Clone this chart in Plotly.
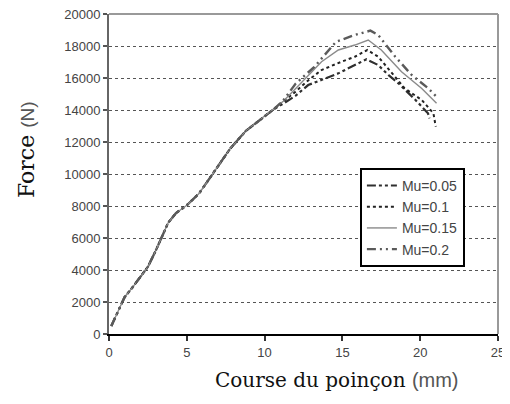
import plotly.graph_objects as go

# Shared loading part (all curves overlap)
common_x = [0.15, 0.5, 1.0, 1.5, 2.1, 2.5, 3.0, 3.5, 3.8, 4.3, 5.0, 5.8, 6.6, 7.2, 7.8, 8.8, 9.9, 10.6]
common_y = [500, 1250, 2300, 2900, 3700, 4200, 5200, 6300, 6950, 7550, 8050, 8800, 9900, 10800, 11600, 12700, 13550, 14050]

mu005_x = [11.2, 12.0, 12.8, 13.66, 14.74, 15.8, 16.55, 17.3, 17.95, 18.6, 19.7, 20.5, 20.6]
mu005_y = [14400, 14900, 15560, 15875, 16290, 16810, 17170, 16810, 16190, 15670, 14625, 13790, 13480]

mu01_x = [11.2, 12.0, 12.8, 13.66, 14.95, 15.8, 16.6, 17.3, 18.2, 19.0, 20.1, 20.85, 21.0]
mu01_y = [14500, 15150, 15850, 16500, 17020, 17330, 17750, 17330, 16290, 15350, 14625, 13790, 12960]

mu015_x = [11.2, 12.0, 13.0, 13.66, 14.74, 15.8, 16.66, 17.5, 18.8, 20.1, 21.05]
mu015_y = [14550, 15350, 16350, 17020, 17750, 18060, 18375, 17750, 16390, 15350, 14420]

mu02_x = [11.2, 12.0, 13.2, 13.66, 14.6, 15.8, 16.8, 17.3, 18.4, 19.45, 20.5, 21.05]
mu02_y = [14600, 15650, 16700, 17230, 18270, 18690, 18960, 18690, 17330, 16190, 15370, 14830]

names = ["Mu=0.05", "Mu=0.1", "Mu=0.15", "Mu=0.2"]
series_x = [mu005_x, mu01_x, mu015_x, mu02_x]
series_y = [mu005_y, mu01_y, mu015_y, mu02_y]

styles = [
    dict(color="#2f2f2f", width=2.2, dash="9px,3px,3px,3px,3px,3px"),
    dict(color="#222222", width=2, dash="3px,3px"),
    dict(color="#8a8a8a", width=1.4, dash="solid"),
    dict(color="#5a5a5a", width=2.4, dash="9px,4px,2px,4px,2px,4px"),
]

x_ticks = [0, 5, 10, 15, 20, 25]
y_ticks = [0, 2000, 4000, 6000, 8000, 10000, 12000, 14000, 16000, 18000, 20000]

fig = go.Figure()
for name, xs, ys, st in zip(names, series_x, series_y, styles):
    fig.add_trace(go.Scatter(
        x=common_x + xs, y=common_y + ys, mode="lines", name=name,
        line=dict(color=st["color"], width=st["width"], dash=st["dash"]),
    ))

# page body has an 8px margin, so the figure is 8px smaller on each axis
fig.update_layout(
    width=502, height=396,
    margin=dict(l=101, r=12, t=6, b=70, autoexpand=False),
    paper_bgcolor="white", plot_bgcolor="white",
    showlegend=True,
    legend=dict(
        x=0.645, y=0.519, xanchor="left", yanchor="top",
        bgcolor="white", bordercolor="black", borderwidth=2,
        font=dict(family="Liberation Sans", size=14, color="#444"),
        itemwidth=30, tracegroupgap=0,
    ),
    font=dict(family="Liberation Sans", size=13, color="#333"),
)

fig.update_xaxes(
    range=[0, 25], tickvals=x_ticks, ticktext=[str(v) for v in x_ticks],
    showgrid=False, zeroline=False, automargin=False,
    showline=True, linecolor="black", linewidth=2,
    ticks="outside", ticklen=5, tickcolor="#333", tickwidth=2,
    ticklabeloverflow="allow",
    tickfont=dict(family="Liberation Sans", size=13, color="#444"),
)
fig.update_yaxes(
    range=[0, 20000], tickvals=y_ticks, ticktext=[str(v) for v in y_ticks],
    showgrid=True, gridcolor="#555", griddash="dot", gridwidth=1,
    zeroline=False, automargin=False,
    showline=True, linecolor="#666", linewidth=2,
    ticks="outside", ticklen=4, tickcolor="#555", tickwidth=2,
    ticklabeloverflow="allow",
    tickfont=dict(family="Liberation Sans", size=13, color="#444"),
)

# plot frame: top and right borders
fig.add_shape(type="line", xref="paper", yref="paper", x0=0, x1=1, y0=1, y1=1,
              line=dict(color="#999", width=2))
fig.add_shape(type="line", xref="paper", yref="paper", x0=1, x1=1, y0=0, y1=1,
              line=dict(color="#999", width=2))

fig.add_annotation(
    text="Course du poinçon <span style='font-family:Liberation Sans;color:#555'>(mm)</span>",
    xref="paper", yref="paper", x=(337 - 109) / 389, y=-(380 - 334) / 320,
    xanchor="center", yanchor="middle", showarrow=False,
    font=dict(family="DejaVu Serif", size=20, color="#111"),
)
fig.add_annotation(
    text="Force <span style='font-family:Liberation Sans;color:#555;font-size:19px'>(N)</span>",
    xref="paper", yref="paper", x=-(109 - 26) / 389, y=(334 - 150) / 320,
    xanchor="center", yanchor="middle", showarrow=False, textangle=-90,
    font=dict(family="DejaVu Serif", size=22, color="#111"),
)

fig.write_html("out.html")
